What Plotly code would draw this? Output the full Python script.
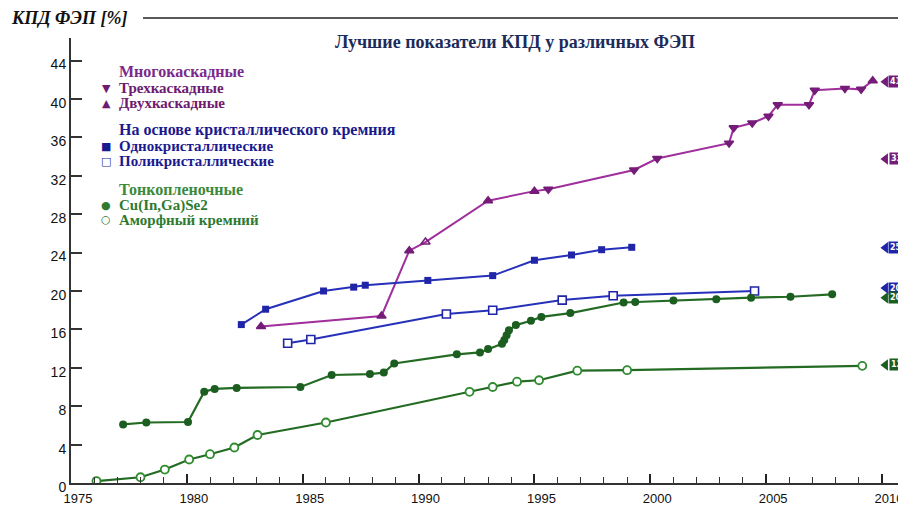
import plotly.graph_objects as go

# ---------------- data ----------------
multi_years = [1983.2, 1988.4, 1989.6, 1990.3, 1993.0, 1995.0, 1995.6, 1999.3, 2000.3,
               2003.4, 2003.6, 2004.4, 2005.1, 2005.5, 2006.85, 2007.1, 2008.4, 2009.1, 2009.6]
multi_eff = [16.3, 17.4, 24.2, 25.1, 29.4, 30.4, 30.6, 32.6, 33.8,
             35.4, 37.0, 37.5, 38.2, 39.4, 39.4, 40.9, 41.1, 41.0, 41.9]
multi_sym = ['triangle-up', 'triangle-up', 'triangle-up', 'triangle-up-open', 'triangle-up',
             'triangle-up', 'triangle-down', 'triangle-down', 'triangle-down',
             'triangle-down', 'triangle-down', 'triangle-down', 'triangle-down', 'triangle-down',
             'triangle-down', 'triangle-down', 'triangle-down', 'triangle-down', 'triangle-up']

mono_years = [1982.35, 1983.4, 1985.9, 1987.2, 1987.7, 1990.4, 1993.2, 1995.0, 1996.6, 1997.9, 1999.2]
mono_eff = [16.5, 18.1, 20.0, 20.4, 20.6, 21.1, 21.6, 23.2, 23.75, 24.3, 24.55]

poly_years = [1984.35, 1985.35, 1991.2, 1993.2, 1996.2, 1998.4, 2004.5]
poly_eff = [14.55, 14.95, 17.6, 18.0, 19.05, 19.5, 20.0]

cigs_years = [1977.25, 1978.25, 1980.05, 1980.75, 1981.2, 1982.15, 1984.9, 1986.25, 1987.9,
              1988.5, 1988.95, 1991.65, 1992.65, 1993.0, 1993.6, 1993.7, 1993.8, 1993.9,
              1994.2, 1994.85, 1995.3, 1996.55, 1998.85, 1999.35, 2001.0, 2002.85, 2004.35,
              2006.05, 2007.85]
cigs_eff = [6.1, 6.3, 6.35, 9.5, 9.8, 9.9, 10.0, 11.25, 11.35,
            11.5, 12.45, 13.4, 13.6, 13.95, 14.5, 14.9, 15.4, 15.9,
            16.45, 16.9, 17.3, 17.7, 18.8, 18.85, 19.0, 19.15, 19.3,
            19.4, 19.65]

asi_years = [1976.1, 1978.0, 1979.05, 1980.1, 1981.0, 1982.05, 1983.05, 1986.0,
             1992.2, 1993.2, 1994.25, 1995.2, 1996.85, 1999.0, 2009.15]
asi_eff = [0.2, 0.6, 1.4, 2.45, 3.0, 3.7, 5.0, 6.3,
           9.5, 10.0, 10.55, 10.7, 11.7, 11.75, 12.2]

x_ticks = [1975, 1980, 1985, 1990, 1995, 2000, 2005, 2010]
y_ticks = [0, 4, 8, 12, 16, 20, 24, 28, 32, 36, 40, 44]

tag_values = [41.8, 33.75, 24.5, 20.3, 19.3, 12.3]
tag_labels = ["41", "33", "25", "20", "20", "12"]

PURPLE = "#741c78"
PURPLE_LINE = "#a02f9c"
BLUE = "#1f24a8"
BLUE_LINE = "#2630b8"
DGREEN = "#1b5e20"
GREEN_LINE = "#236b23"
LGREEN = "#2e8b2e"
tag_colors = [PURPLE, PURPLE, BLUE, BLUE, DGREEN, DGREEN]

SERIF = "Liberation Serif, Times New Roman, serif"
SANS = "Liberation Sans, Arial, sans-serif"

# legend rows: (symbol glyph, text, colour, is_header)
legend_rows = [
    ("", "Многокаскадные", "#7b2a8c", True),
    ("▼", "Трехкаскадные", "#6e1a70", False),
    ("▲", "Двухкаскадные", "#6e1a70", False),
    ("", "На основе кристаллического кремния", "#1a1a8c", True),
    ("■", "Однокристаллические", "#1a1a90", False),
    ("□", "Поликристаллические", "#1a1a90", False),
    ("", "Тонкопленочные", "#3a8a3a", True),
    ("●", "Cu(In,Ga)Se2", "#2e7a2e", False),
    ("○", "Аморфный кремний", "#2e7a2e", False),
]
legend_row_gap = [0, 16, 15, 27, 16, 15, 28, 16, 15]

fig = go.Figure()

# ---------------- data traces ----------------
fig.add_trace(go.Scatter(x=multi_years, y=multi_eff, mode="lines+markers",
                         name="Многокаскадные",
                         line=dict(color=PURPLE_LINE, width=2),
                         marker=dict(symbol=multi_sym, size=8, color=PURPLE,
                                     line=dict(color=PURPLE, width=1.5)),
                         showlegend=False))
fig.add_trace(go.Scatter(x=mono_years, y=mono_eff, mode="lines+markers",
                         name="Однокристаллические",
                         line=dict(color=BLUE_LINE, width=2),
                         marker=dict(symbol="square", size=7, color=BLUE),
                         showlegend=False))
fig.add_trace(go.Scatter(x=poly_years, y=poly_eff, mode="lines+markers",
                         name="Поликристаллические",
                         line=dict(color=BLUE_LINE, width=2),
                         marker=dict(symbol="square", size=8, color="white",
                                     line=dict(color=BLUE, width=1.6)),
                         showlegend=False))
fig.add_trace(go.Scatter(x=cigs_years, y=cigs_eff, mode="lines+markers",
                         name="Cu(In,Ga)Se2",
                         line=dict(color=GREEN_LINE, width=2.2),
                         marker=dict(symbol="circle", size=8, color=DGREEN),
                         showlegend=False))
fig.add_trace(go.Scatter(x=asi_years, y=asi_eff, mode="lines+markers",
                         name="Аморфный кремний",
                         line=dict(color=GREEN_LINE, width=2.2),
                         marker=dict(symbol="circle", size=8, color="white",
                                     line=dict(color=LGREEN, width=1.8)),
                         showlegend=False))

# Figure geometry (the page adds an 8px body margin, figure is shifted by it)
L, T, PW, PH = 63, 30, 833, 445


def px_x(ref_x):
    return (ref_x - 8 - L) / PW


def px_y(ref_y):
    return (T + PH - (ref_y - 8)) / PH


# ---------------- legend (as text) ----------------
row_y = 72
for (glyph, text, col, header), gap in zip(legend_rows, legend_row_gap):
    row_y += gap
    fig.add_annotation(xref="paper", yref="paper", x=px_x(117), y=px_y(row_y),
                       xanchor="left", yanchor="middle", showarrow=False,
                       text=f"<b>{text}</b>",
                       font=dict(family=SERIF, size=16 if header else 15, color=col))
    if glyph:
        fig.add_annotation(xref="paper", yref="paper", x=px_x(106), y=px_y(row_y),
                           xanchor="center", yanchor="middle", showarrow=False,
                           text=glyph, font=dict(family="DejaVu Sans", size=11, color=col))

# ---------------- right-side tags ----------------
for val, lab, col in zip(tag_values, tag_labels, tag_colors):
    fig.add_annotation(xref="paper", yref="y", x=1.0, y=val, xanchor="right", yanchor="middle",
                       text=f"<b>{lab}</b>", showarrow=False, bgcolor=col,
                       font=dict(color="white", size=8, family="DejaVu Sans"),
                       borderpad=1)
fig.add_trace(go.Scatter(x=[2010.15] * len(tag_values), y=tag_values, mode="markers",
                         marker=dict(symbol="triangle-left", size=10, color=tag_colors),
                         showlegend=False, cliponaxis=False, hoverinfo="skip"))

# ---------------- titles ----------------
fig.add_annotation(xref="paper", yref="paper", x=px_x(515), y=px_y(42),
                   yanchor="middle", xanchor="center",
                   text="<b>Лучшие показатели КПД у различных ФЭП</b>", showarrow=False,
                   font=dict(family=SERIF, size=18, color="#1c2b5a"))
fig.add_annotation(xref="paper", yref="paper", x=px_x(9), y=px_y(18),
                   xanchor="left", yanchor="middle",
                   text="<b><i>КПД ФЭП [%]</i></b>", showarrow=False,
                   font=dict(family=SERIF, size=18, color="#111111"))
fig.add_shape(type="line", xref="paper", yref="paper", x0=px_x(143), x1=px_x(906),
              y0=px_y(18), y1=px_y(18), line=dict(color="#222222", width=1.5))

fig.update_layout(
    width=898, height=499,
    margin=dict(l=L, r=898 - L - PW, t=T, b=499 - T - PH, autoexpand=False),
    paper_bgcolor="white", plot_bgcolor="white",
    showlegend=False,
    xaxis=dict(range=[1975, 2010.95], tickmode="array", tickvals=x_ticks,
               ticktext=[str(v) for v in x_ticks],
               ticks="inside", ticklen=9, tickwidth=1.6, tickcolor="#222",
               showline=True, linecolor="#333", linewidth=2,
               showgrid=False, zeroline=False, ticklabelshift=7, ticklabelstandoff=2,
               minor=dict(dtick=1, ticks="inside", ticklen=6, tickwidth=1.2, tickcolor="#333"),
               tickfont=dict(family=SANS, size=13, color="#111")),
    yaxis=dict(range=[0, 46.35], tickmode="array", tickvals=y_ticks,
               ticks="inside", ticklen=11, tickwidth=1.6, tickcolor="#333",
               showline=True, linecolor="#333", linewidth=2, mirror=True,
               showgrid=False, zeroline=False, ticklabelshift=4,
               tickfont=dict(family=SANS, size=14, color="#111")),
)

fig.write_html("out.html")
